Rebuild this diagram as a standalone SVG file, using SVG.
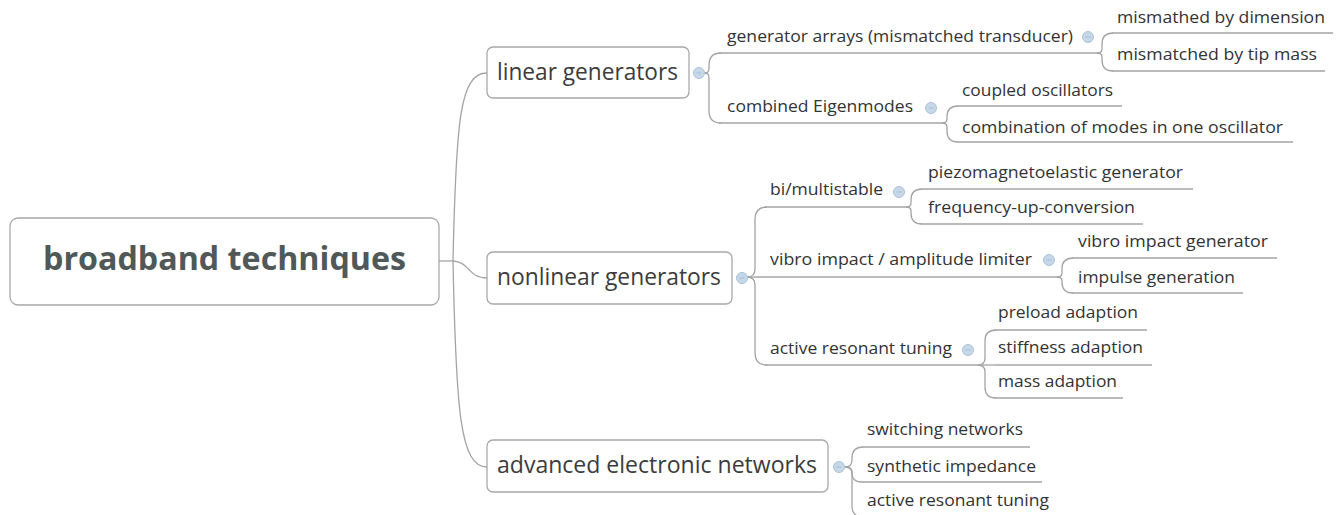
<svg xmlns="http://www.w3.org/2000/svg" width="1339" height="515" viewBox="0 0 1339 515">
  <style>
    .box { fill: #ffffff; stroke: #a8a8a8; stroke-width: 1.3; }
    .root-label { font-family: "Open Sans", "Noto Sans", sans-serif; font-weight: 700; font-size: 32px; fill: #515858; }
    .main-label { font-family: "Open Sans", "Noto Sans", sans-serif; font-size: 23px; fill: #3c3c3c; }
    .sub-label { font-family: "Open Sans", "Noto Sans", sans-serif; font-size: 16.5px; fill: #333333; }
    .underline { stroke: #a4a4a4; stroke-width: 1.3; fill: none; }
    .link { stroke: #a4a4a4; stroke-width: 1.3; fill: none; }
    .toggle { fill: #c6d7e8; stroke: #adc3d9; stroke-width: 1; }
    .toggle-bar { stroke: #a9bed4; stroke-width: 1; }
  </style>
  <defs>
    <g id="collapse">
      <circle class="toggle" cx="0" cy="0" r="5.5"/>
      <line class="toggle-bar" x1="-2.5" y1="0" x2="2.5" y2="0"/>
    </g>
  </defs>

  <rect width="1339" height="515" fill="#ffffff"/>

  <!-- connectors -->
  <g id="connectors">
    <!-- root to main topics -->
    <path class="link" d="M439 261 L453 261"/>
    <path class="link" d="M453 261 C456 120 460 73 487 73"/>
    <path class="link" d="M453 261 C470 262 468 278 487 278"/>
    <path class="link" d="M453 261 C456 410 460 467 487 467"/>

    <!-- linear generators -->
    <path class="link" d="M705 73 Q709 73 709 68 L709 65 Q709 53 721 53"/>
    <path class="link" d="M705 73 Q709 73 709 78 L709 111 Q709 123 721 123"/>
    <!-- generator arrays -->
    <path class="link" d="M1097 53 Q1102 53 1102 49 L1102 44 Q1102 33 1113 33"/>
    <path class="link" d="M1097 53 Q1102 53 1102 57 L1102 60 Q1102 71 1113 71"/>
    <!-- combined Eigenmodes -->
    <path class="link" d="M942 123 Q947 123 947 119 L947 117 Q947 106 958 106"/>
    <path class="link" d="M942 123 Q947 123 947 127 L947 131 Q947 142 958 142"/>

    <!-- nonlinear generators -->
    <path class="link" d="M747 277 Q755 277 755 269 L755 219 Q755 207 767 207"/>
    <path class="link" d="M747 277 L755 277"/>
    <path class="link" d="M747 277 Q755 277 755 285 L755 353 Q755 365 767 365"/>
    <!-- bi/multistable -->
    <path class="link" d="M906 207 Q911 207 911 203 L911 200 Q911 189 922 189"/>
    <path class="link" d="M906 207 Q911 207 911 211 L911 213 Q911 224 922 224"/>
    <!-- vibro impact / amplitude limiter -->
    <path class="link" d="M1057 277 Q1062 277 1062 273 L1062 269 Q1062 258 1073 258"/>
    <path class="link" d="M1057 277 Q1062 277 1062 281 L1062 282 Q1062 293 1073 293"/>
    <!-- active resonant tuning -->
    <path class="link" d="M978 365 Q985 365 985 358 L985 341 Q985 330 996 330"/>
    <path class="link" d="M978 365 L995 365"/>
    <path class="link" d="M978 365 Q985 365 985 372 L985 387 Q985 398 996 398"/>

    <!-- advanced electronic networks -->
    <path class="link" d="M845 467 Q852 467 852 460 L852 458 Q852 447 863 447"/>
    <path class="link" d="M845 467 Q852 467 852 472 L852 473 Q852 482 861 482"/>
    <path class="link" d="M845 467 Q852 467 852 474 L852 506 Q852 517 863 517"/>
  </g>

  <!-- root -->
  <g id="node-root">
    <rect class="box" x="10" y="218" width="429" height="87" rx="8"/>
    <text class="root-label" x="224.5" y="270" text-anchor="middle" textLength="363" lengthAdjust="spacingAndGlyphs">broadband techniques</text>
  </g>

  <!-- main topics -->
  <g id="node-linear">
    <rect class="box" x="487" y="47" width="202" height="51" rx="6"/>
    <text class="main-label" x="497" y="80" textLength="181" lengthAdjust="spacingAndGlyphs">linear generators</text>
    <use href="#collapse" x="699" y="73"/>
  </g>
  <g id="node-nonlinear">
    <rect class="box" x="487" y="252" width="245" height="52" rx="6"/>
    <text class="main-label" x="497" y="285" textLength="224" lengthAdjust="spacingAndGlyphs">nonlinear generators</text>
    <use href="#collapse" x="742" y="278"/>
  </g>
  <g id="node-advanced">
    <rect class="box" x="487" y="440" width="341" height="52" rx="6"/>
    <text class="main-label" x="497" y="473" textLength="320" lengthAdjust="spacingAndGlyphs">advanced electronic networks</text>
    <use href="#collapse" x="839" y="467"/>
  </g>

  <!-- linear generators branch -->
  <g id="node-generator-arrays">
    <text class="sub-label" x="727" y="42" textLength="346" lengthAdjust="spacingAndGlyphs">generator arrays (mismatched transducer)</text>
    <line class="underline" x1="719" y1="53" x2="1097" y2="53"/>
    <use href="#collapse" x="1088" y="37"/>
  </g>
  <g id="node-mismatched-dimension">
    <text class="sub-label" x="1117" y="23" textLength="208" lengthAdjust="spacingAndGlyphs">mismathed by dimension</text>
    <line class="underline" x1="1112" y1="33" x2="1333" y2="33"/>
  </g>
  <g id="node-mismatched-tip-mass">
    <text class="sub-label" x="1117" y="60" textLength="200" lengthAdjust="spacingAndGlyphs">mismatched by tip mass</text>
    <line class="underline" x1="1112" y1="71" x2="1325" y2="71"/>
  </g>
  <g id="node-combined-eigenmodes">
    <text class="sub-label" x="727" y="112" textLength="186" lengthAdjust="spacingAndGlyphs">combined Eigenmodes</text>
    <line class="underline" x1="719" y1="123" x2="942" y2="123"/>
    <use href="#collapse" x="931" y="108"/>
  </g>
  <g id="node-coupled-oscillators">
    <text class="sub-label" x="962" y="96" textLength="151" lengthAdjust="spacingAndGlyphs">coupled oscillators</text>
    <line class="underline" x1="957" y1="106" x2="1122" y2="106"/>
  </g>
  <g id="node-mode-combination">
    <text class="sub-label" x="962" y="133" textLength="321" lengthAdjust="spacingAndGlyphs">combination of modes in one oscillator</text>
    <line class="underline" x1="957" y1="142" x2="1293" y2="142"/>
  </g>

  <!-- nonlinear generators branch -->
  <g id="node-multistable">
    <text class="sub-label" x="770" y="195" textLength="113" lengthAdjust="spacingAndGlyphs">bi/multistable</text>
    <line class="underline" x1="765" y1="207" x2="906" y2="207"/>
    <use href="#collapse" x="899" y="192"/>
  </g>
  <g id="node-piezomagnetoelastic">
    <text class="sub-label" x="928" y="178" textLength="255" lengthAdjust="spacingAndGlyphs">piezomagnetoelastic generator</text>
    <line class="underline" x1="921" y1="189" x2="1193" y2="189"/>
  </g>
  <g id="node-frequency-up">
    <text class="sub-label" x="928" y="213" textLength="207" lengthAdjust="spacingAndGlyphs">frequency-up-conversion</text>
    <line class="underline" x1="921" y1="224" x2="1143" y2="224"/>
  </g>
  <g id="node-vibro-limiter">
    <text class="sub-label" x="770" y="265" textLength="262" lengthAdjust="spacingAndGlyphs">vibro impact / amplitude limiter</text>
    <line class="underline" x1="755" y1="277" x2="1057" y2="277"/>
    <use href="#collapse" x="1049" y="260"/>
  </g>
  <g id="node-vibro-generator">
    <text class="sub-label" x="1078" y="247" textLength="190" lengthAdjust="spacingAndGlyphs">vibro impact generator</text>
    <line class="underline" x1="1072" y1="258" x2="1277" y2="258"/>
  </g>
  <g id="node-impulse">
    <text class="sub-label" x="1078" y="283" textLength="157" lengthAdjust="spacingAndGlyphs">impulse generation</text>
    <line class="underline" x1="1072" y1="293" x2="1243" y2="293"/>
  </g>
  <g id="node-active-tuning-mech">
    <text class="sub-label" x="770" y="354" textLength="182" lengthAdjust="spacingAndGlyphs">active resonant tuning</text>
    <line class="underline" x1="765" y1="365" x2="978" y2="365"/>
    <use href="#collapse" x="968" y="350"/>
  </g>
  <g id="node-preload">
    <text class="sub-label" x="998" y="318" textLength="140" lengthAdjust="spacingAndGlyphs">preload adaption</text>
    <line class="underline" x1="995" y1="330" x2="1147" y2="330"/>
  </g>
  <g id="node-stiffness">
    <text class="sub-label" x="998" y="353" textLength="145" lengthAdjust="spacingAndGlyphs">stiffness adaption</text>
    <line class="underline" x1="995" y1="365" x2="1152" y2="365"/>
  </g>
  <g id="node-mass">
    <text class="sub-label" x="998" y="387" textLength="119" lengthAdjust="spacingAndGlyphs">mass adaption</text>
    <line class="underline" x1="995" y1="398" x2="1123" y2="398"/>
  </g>

  <!-- advanced electronic networks branch -->
  <g id="node-switching">
    <text class="sub-label" x="867" y="435" textLength="156" lengthAdjust="spacingAndGlyphs">switching networks</text>
    <line class="underline" x1="862" y1="447" x2="1030" y2="447"/>
  </g>
  <g id="node-synthetic">
    <text class="sub-label" x="867" y="472" textLength="169" lengthAdjust="spacingAndGlyphs">synthetic impedance</text>
    <line class="underline" x1="861" y1="482" x2="1042" y2="482"/>
  </g>
  <g id="node-active-tuning-elec">
    <text class="sub-label" x="867" y="506" textLength="182" lengthAdjust="spacingAndGlyphs">active resonant tuning</text>
    <line class="underline" x1="862" y1="517" x2="1055" y2="517"/>
  </g>
</svg>
